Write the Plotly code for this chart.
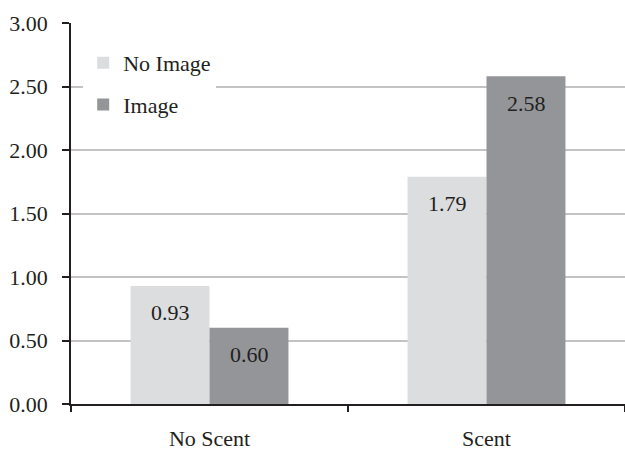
import plotly.graph_objects as go

categories = ["No Scent", "Scent"]
series_names = ["No Image", "Image"]
no_image = [0.93, 1.79]
image = [0.60, 2.58]
colors = ["#dcdddf", "#939598"]
y_ticks = [0, 0.5, 1.0, 1.5, 2.0, 2.5, 3.0]

FONT = "Liberation Serif, Times New Roman, serif"

fig = go.Figure()
for i, (name, vals) in enumerate(zip(series_names, [no_image, image])):
    fig.add_trace(go.Bar(
        x=categories, y=vals, name=name,
        marker=dict(color=colors[i], line=dict(width=0)),
        legendgroup=name,
    ))

# value labels inside bars near top
bar_px = 79
for i, vals in enumerate([no_image, image]):
    shift = (-bar_px / 2) if i == 0 else (bar_px / 2)
    for c, v in zip(categories, vals):
        fig.add_annotation(
            x=c, y=v, xref="x", yref="y", text=f"{v:.2f}",
            showarrow=False, xshift=shift, yshift=-27,
            font=dict(family=FONT, size=22, color="#231f20"),
        )

fig.update_layout(
    width=625, height=451,
    margin=dict(l=71, r=0, t=23, b=44),
    paper_bgcolor="white", plot_bgcolor="white",
    barmode="group", bargap=0.43, bargroupgap=0,
    font=dict(family=FONT, size=22, color="#231f20"),
    showlegend=True,
    legend=dict(
        x=0.022, y=0.95, xanchor="left", yanchor="top",
        bgcolor="white", font=dict(family=FONT, size=22, color="#231f20"),
        tracegroupgap=10, itemwidth=30,
    ),
    xaxis=dict(
        showline=True, linecolor="#231f20", linewidth=1.5,
        ticks="outside", tickson="boundaries", ticklen=6, tickcolor="#231f20",
        tickwidth=1.5, ticklabelstandoff=14,
        tickfont=dict(family=FONT, size=22, color="#231f20"),
        showgrid=False,
    ),
    yaxis=dict(
        range=[0, 3.0], tickvals=y_ticks,
        ticktext=[f"{t:.2f}" for t in y_ticks],
        showline=True, linecolor="#231f20", linewidth=1.5,
        ticks="outside", ticklen=7, tickcolor="#231f20", tickwidth=1.5,
        ticklabelstandoff=10,
        showgrid=True, gridcolor="#c3c3c3", gridwidth=1.5,
        zeroline=False,
        tickfont=dict(family=FONT, size=22, color="#231f20"),
    ),
)

fig.write_html("out.html")
